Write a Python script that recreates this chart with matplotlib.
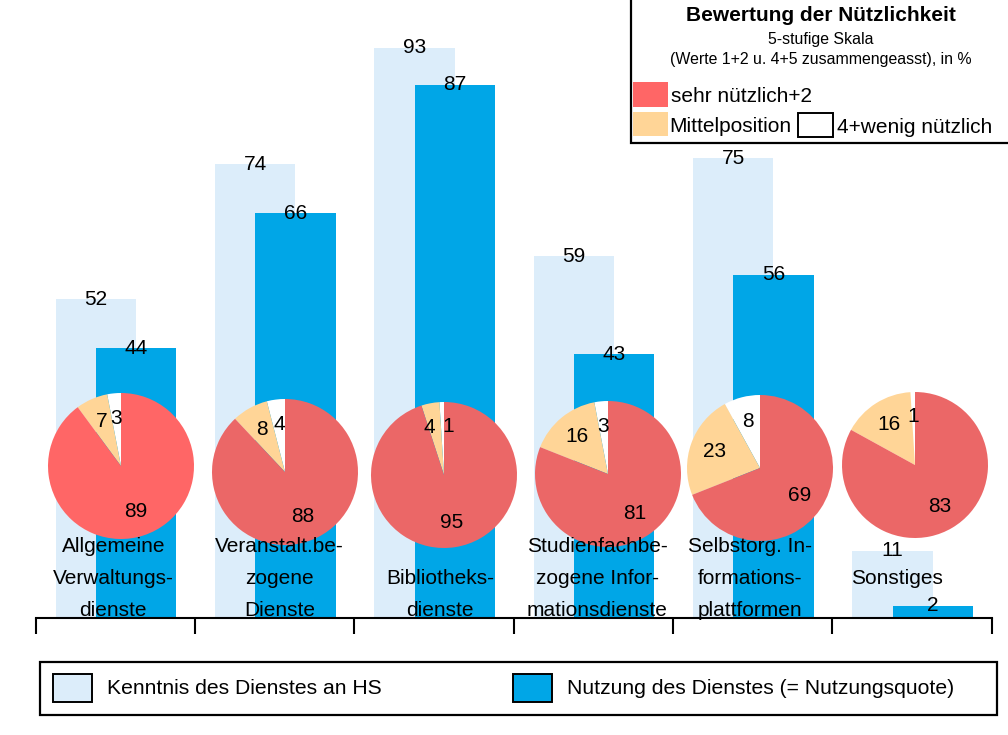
import numpy as np
import matplotlib
matplotlib.use("Agg")
import matplotlib.pyplot as plt
from matplotlib.patches import Rectangle

plt.rcParams['font.family'] = ['Liberation Sans', 'DejaVu Sans']

# data
categories = ["Allgemeine\nVerwaltungs-\ndienste",
              "Veranstalt.be-\nzogene\nDienste",
              "\nBibliotheks-\ndienste",
              "Studienfachbe-\nzogene Infor-\nmationsdienste",
              "Selbstorg. In-\nformations-\nplattformen",
              "\nSonstiges"]
kenntnis = [52, 74, 93, 59, 75, 11]
nutzung = [44, 66, 87, 43, 56, 2]
# pie values: [4+wenig nuetzlich, Mittelposition, sehr nuetzlich+2]
wenig = [3, 4, 1, 3, 8, 1]
mittel = [7, 8, 4, 16, 23, 16]
sehr = [89, 88, 95, 81, 69, 83]

c_light = "#DCEDFA"
c_dark = "#00A6E7"
c_red = ["#FF6666", "#EB6767", "#EB6767", "#EB6767", "#EB6767", "#EB6767"]
c_beige = "#FFD597"

W, H = 1008, 735
fig = plt.figure(figsize=(W / 100, H / 100), dpi=100)

def px_rect(x0, y0, w, h):
    # pixel box (top-left origin) -> figure fraction
    return [x0 / W, 1 - (y0 + h) / H, w / W, h / H]

# main bar axes
base_y = 618
scale = 6.13
ax = fig.add_axes(px_rect(35.7, base_y - 100 * scale, 956, 100 * scale))
x = np.arange(len(kenntnis))
ax.bar(x + 0.126, kenntnis, width=0.504, align='edge', color=c_light, zorder=1)
ax.bar(x + 0.378, nutzung, width=0.504, align='edge', color=c_dark, zorder=2)
for i in range(len(x)):
    ax.text(x[i] + 0.378, kenntnis[i], str(kenntnis[i]), ha='center', va='center',
            fontsize=15, zorder=3)
    ax.text(x[i] + 0.63, nutzung[i], str(nutzung[i]), ha='center', va='center',
            fontsize=15, zorder=3)
ax.set_xlim(0, 6)
ax.set_ylim(0, 100)
for s in ['top', 'right', 'left']:
    ax.spines[s].set_visible(False)
ax.spines['bottom'].set_linewidth(1.5)
ax.set_xticks(range(7))
ax.set_xticklabels([])
ax.tick_params(axis='x', direction='out', length=11.5, width=1.5)
ax.set_yticks([])
ax.patch.set_alpha(0)

# pies
centers = [(121, 466), (285, 472), (444, 475), (608, 474), (760, 468), (915, 465)]
r = 73
for i, (cx, cy) in enumerate(centers):
    pa = fig.add_axes(px_rect(cx - r, cy - r, 2 * r, 2 * r))
    vals = [wenig[i], mittel[i], sehr[i]]
    wedges, _ = pa.pie(vals, colors=["white", c_beige, c_red[i]], startangle=90,
                       counterclock=True, radius=1)
    tight = wenig[i] < 2 and mittel[i] < 6
    for k, (w, v) in enumerate(zip(wedges, vals)):
        ang = np.deg2rad((w.theta1 + w.theta2) / 2)
        ha = 'center'
        if tight and k == 0:
            ha = 'left'
        elif tight and k == 1:
            ha = 'right'
        pa.text(0.66 * np.cos(ang), 0.66 * np.sin(ang), str(v), ha=ha,
                va='center', fontsize=15)
    pa.set_xlim(-1, 1)
    pa.set_ylim(-1, 1)
    pa.set_aspect('equal')
    pa.axis('off')

# overlay in pixel coords for labels and legends
ov = fig.add_axes([0, 0, 1, 1], zorder=5)
ov.set_xlim(0, W)
ov.set_ylim(H, 0)
ov.axis('off')
ov.patch.set_alpha(0)

label_dx = [-2, 5, 6, 4, -3, -15]
rows = [552, 584, 616]
gw = 956 / 6
for i, lab in enumerate(categories):
    xc = 35.7 + gw * (i + 0.5) + label_dx[i]
    for j, line in enumerate(lab.split("\n")):
        if line:
            ov.text(xc, rows[j], line, ha='center', va='baseline', fontsize=15)

# bottom legend
ov.add_patch(Rectangle((40, 662), 957, 53, fill=False, lw=1.6, ec='black'))
ov.add_patch(Rectangle((53, 674), 39, 28, fc=c_light, ec='black', lw=1.4))
ov.text(107, 688, "Kenntnis des Dienstes an HS", va='center', fontsize=15.2)
ov.add_patch(Rectangle((513, 674), 39, 28, fc=c_dark, ec='black', lw=1.4))
ov.text(567, 688, "Nutzung des Dienstes (= Nutzungsquote)", va='center', fontsize=15.2)

# top-right legend
ov.add_patch(Rectangle((631, -10), 400, 153, fill=False, lw=1.6, ec='black',
                       clip_on=False))
ov.text(821, 15, "Bewertung der Nützlichkeit", ha='center', va='center',
        fontsize=15, fontweight='bold')
ov.text(821, 39, "5-stufige Skala", ha='center', va='center', fontsize=11.4)
ov.text(821, 59, "(Werte 1+2 u. 4+5 zusammengeasst), in %", ha='center',
        va='center', fontsize=11.4)
ov.add_patch(Rectangle((633, 82), 35, 25, fc=c_red[0], ec='none'))
ov.text(671, 96, "sehr nützlich+2", va='center', fontsize=15)
ov.add_patch(Rectangle((633, 112), 35, 24, fc=c_beige, ec='none'))
ov.text(669, 126, "Mittelposition", va='center', fontsize=15)
ov.add_patch(Rectangle((798, 113), 35, 24, fc='white', ec='black', lw=1.4))
ov.text(837, 127, "4+wenig nützlich", va='center', fontsize=15)

fig.savefig("out.png", dpi=100)
